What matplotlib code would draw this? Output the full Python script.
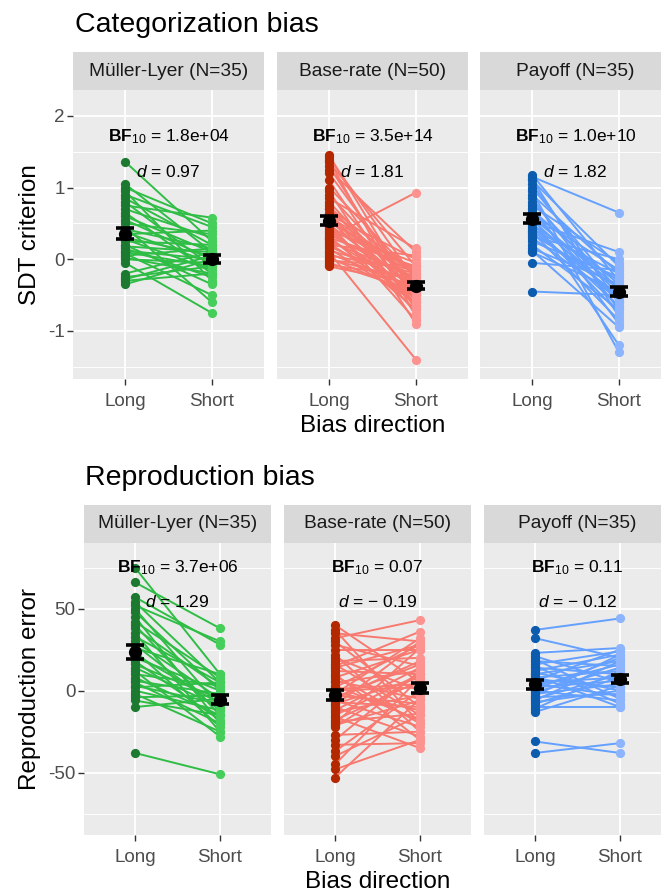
import numpy as np
import matplotlib
matplotlib.use('Agg')
import matplotlib.pyplot as plt

plt.rcParams['font.family'] = ['Liberation Sans', 'DejaVu Sans']
plt.rcParams['mathtext.fontset'] = 'custom'
plt.rcParams['mathtext.rm'] = 'Liberation Sans'
plt.rcParams['mathtext.it'] = 'Liberation Sans:italic'
plt.rcParams['mathtext.bf'] = 'Liberation Sans:bold'
plt.rcParams['axes.unicode_minus'] = False

directions = ['Long', 'Short']
tasks = ['Müller-Lyer (N=35)', 'Base-rate (N=50)', 'Payoff (N=35)']

# --- SDT criterion, one value per participant (long / short bias) ---
crit_ml_long = [1.36, 1.05, 1.0, 0.95, 0.9, 0.85, 0.8, 0.75, 0.7, 0.65, 0.6, 0.55,
                0.5, 0.45, 0.42, 0.38, 0.35, 0.3, 0.28, 0.25, 0.2, 0.18, 0.15, 0.12,
                0.1, 0.08, 0.05, 0.02, 0.0, -0.05, -0.2, -0.25, -0.28, -0.3, -0.35]
crit_ml_short = [0.25, 0.1, 0.5, -0.3, 0.45, 0.2, -0.1, 0.58, 0.3, -0.2, 0.1, 0.0,
                 0.35, -0.6, 0.15, -0.05, 0.4, 0.05, -0.15, 0.2, -0.35, 0.1, -0.25, 0.0,
                 -0.1, -0.5, 0.15, -0.2, -0.05, -0.75, 0.1, -0.1, 0.05, -0.2, 0.0]
crit_br_long = [1.45, 1.42, 1.38, 1.35, 1.3, 1.25, 1.2, 1.1, 1.0, 0.95, 0.9, 0.85, 0.8,
                0.75, 0.72, 0.7, 0.65, 0.62, 0.6, 0.58, 0.55, 0.52, 0.5, 0.48, 0.45,
                0.42, 0.4, 0.38, 0.35, 0.32, 0.3, 0.28, 0.25, 0.22, 0.2, 0.18, 0.15,
                0.12, 0.1, 0.08, 0.05, 0.02, 0.0, -0.02, -0.05, -0.08, -0.1, 0.3, 0.45, 0.6]
crit_br_short = [-0.55, -0.3, -0.8, -0.1, -0.6, 0.1, -0.45, -0.7, -0.25, -0.9, -0.4, 0.15,
                 -0.5, -0.65, -0.2, -0.35, -0.75, 0.0, -0.45, -0.3, -0.55, -0.15, -0.85,
                 -0.4, -0.2, -0.6, -0.05, -0.5, -0.3, -0.7, -0.1, -0.45, -0.25, -0.55,
                 0.05, -0.35, -0.6, -0.2, -1.4, -0.4, -0.15, -0.5, -0.3, -0.1, -0.45,
                 -0.25, -0.35, 0.93, -0.65, -0.2]
crit_po_long = [1.18, 1.15, 1.12, 1.1, 1.05, 1.0, 0.95, 0.9, 0.85, 0.8, 0.75, 0.72, 0.68,
                0.65, 0.62, 0.6, 0.58, 0.55, 0.52, 0.5, 0.48, 0.45, 0.42, 0.4, 0.38, 0.35,
                0.32, 0.3, 0.25, 0.2, 0.15, 0.12, 0.1, -0.05, -0.45]
crit_po_short = [-0.3, 0.65, -0.8, -0.1, -0.6, -0.45, -1.3, -0.2, -0.7, -0.5, -0.05, -0.9,
                 -0.35, -0.6, -0.15, -1.2, -0.4, -0.55, 0.1, -0.75, -0.3, -0.65, -0.2,
                 -0.5, -0.85, -0.4, 0.0, -0.55, -0.25, -0.7, -0.35, -0.95, -0.45, -0.15, -0.5]

# --- reproduction error, one value per participant ---
rep_ml_long = [75, 66, 57, 54, 52, 50, 48, 45, 42, 40, 38, 35, 33, 30, 28, 26, 24, 22,
               20, 18, 16, 14, 12, 10, 8, 6, 5, 3, 2, 0, -2, -4, -6, -10, -38]
rep_ml_short = [10, 38, 28, 5, 30, -10, 0, -20, 8, -15, 2, -25, 5, -5, -12, 10, -22, -8,
                0, -18, -5, -10, -28, 3, -15, -2, -20, -8, 5, -12, -25, -3, -15, -5, -51]
rep_br_long = [40, 37, 35, 32, 30, 28, 25, 22, 20, 18, 16, 14, 12, 10, 8, 6, 5, 3, 2, 0,
               -1, -2, -3, -5, -6, -8, -9, -10, -12, -13, -15, -16, -18, -19, -20, -21,
               -22, 15, 9, 1, -4, -7, -27, -30, -33, -37, -40, -45, -48, -53]
rep_br_short = [5, -20, 30, 43, -10, 15, 25, -25, 0, 20, -15, 28, 10, -30, 25, -5, 12,
                -18, 28, 2, -12, 32, -8, 18, -22, 8, 30, -28, 14, -3, 10, -35, 6, -14,
                26, -6, 10, 36, -20, 4, 16, -10, -25, 12, -32, 0, -15, 8, -30, -5]
rep_po_long = [37, 32, 23, 21, 19, 18, 16, 15, 14, 12, 11, 10, 9, 8, 7, 6, 5, 4, 3, 2, 1,
               0, -1, -2, -3, -4, -5, -6, -7, -8, -10, -11, -13, -31, -38]
rep_po_short = [44, 20, 26, 5, -5, 15, 24, -8, 10, 22, 0, 18, -10, 12, 2, 25, 8, -3, 16,
                6, 20, -6, 14, 4, 22, -2, 10, 18, 0, 8, -10, 12, 3, -38, -32]

crit_bf = ['1.8e+04', '3.5e+14', '1.0e+10']
crit_d = ['0.97', '1.81', '1.82']
rep_bf = ['3.7e+06', '0.07', '0.11']
rep_d = ['1.29', '\u2212 0.19', '\u2212 0.12']

# long points, short points, connecting lines
palettes = [('#1c7a30', '#45cf5a', '#2fbd45'),
            ('#b42800', '#fd9390', '#f8796f'),
            ('#0b5cae', '#8db4ff', '#64a0ff')]

W, H = 661, 894
fig = plt.figure(figsize=(W / 100, H / 100), dpi=100)


def px_axes(left, top, width, height):
    return fig.add_axes([left / W, 1 - (top + height) / H, width / W, height / H])


def facet_row(title, title_pos, lefts, width, top, bottom, data, bfs, ds,
              ylim, yticks, yminor, ylabel, bf_y, d_y):
    fig.text(title_pos[0] / W, 1 - title_pos[1] / H, title, fontsize=20.5,
             va='baseline', ha='left', color='black')
    for i, left in enumerate(lefts):
        strip = px_axes(left, top - 38, width, 38)
        strip.set_facecolor('#D9D9D9')
        strip.set_xticks([])
        strip.set_yticks([])
        for sp in strip.spines.values():
            sp.set_visible(False)
        strip.text(0.5, 0.5, tasks[i], ha='center', va='center',
                   fontsize=13.8, color='#1A1A1A', transform=strip.transAxes)

        ax = px_axes(left, top, width, bottom - top)
        ax.set_facecolor('#EBEBEB')
        for sp in ax.spines.values():
            sp.set_visible(False)
        ax.set_axisbelow(True)

        long_v, short_v = np.array(data[i][0]), np.array(data[i][1])
        c_long, c_short, c_line = palettes[i]
        for a, b in zip(long_v, short_v):
            ax.plot([1, 2], [a, b], color=c_line, lw=1.4, zorder=2,
                    solid_capstyle='round')
        ax.scatter(np.ones(len(long_v)), long_v, s=44, color=c_long,
                   linewidths=0, zorder=3)
        ax.scatter(np.full(len(short_v), 2), short_v, s=44, color=c_short,
                   linewidths=0, zorder=3)

        means = [long_v.mean(), short_v.mean()]
        ses = [long_v.std(ddof=1) / np.sqrt(len(long_v)),
               short_v.std(ddof=1) / np.sqrt(len(short_v))]
        ax.errorbar([1, 2], means, yerr=ses, fmt='o', color='black', ms=8.5,
                    elinewidth=2.6, capsize=6.5, capthick=2.6, zorder=5)

        ax.text(1.5, bf_y, r'$\mathbf{BF}_{\mathrm{10}}$' + ' = ' + bfs[i],
                ha='center', va='center', fontsize=12.5, zorder=6)
        ax.text(1.5, d_y, r'$d$' + ' = ' + ds[i],
                ha='center', va='center', fontsize=12.5, zorder=6)

        ax.set_xlim(0.4, 2.6)
        ax.set_ylim(*ylim)
        ax.set_xticks([1, 2])
        ax.set_xticklabels(directions)
        ax.set_yticks(yticks)
        ax.set_yticklabels([str(t) for t in yticks])
        ax.set_yticks(yminor, minor=True)
        ax.grid(which='major', color='white', lw=1.3)
        ax.grid(which='minor', axis='y', color='white', lw=0.65)
        ax.tick_params(which='major', length=4, width=1.0, color='#333333',
                       labelcolor='#4D4D4D', labelsize=13.6, pad=2)
        ax.tick_params(axis='x', which='major', pad=6)
        ax.tick_params(which='minor', length=0)
        if i == 0:
            ax.set_ylabel(ylabel, fontsize=17.5, labelpad=5)
        else:
            ax.tick_params(axis='y', which='both', left=False, labelleft=False)
        if i == 1:
            ax.set_xlabel('Bias direction', fontsize=17.5, labelpad=4)


facet_row('Categorization bias', (75, 32), [73, 277, 480], 191, 90, 379,
          [(crit_ml_long, crit_ml_short), (crit_br_long, crit_br_short),
           (crit_po_long, crit_po_short)],
          crit_bf, crit_d, (-1.67, 2.36), [-1, 0, 1, 2], [-1.5, -0.5, 0.5, 1.5],
          'SDT criterion', 1.71, 1.22)

facet_row('Reproduction bias', (85, 485), [84, 284, 484], 187, 543, 835,
          [(rep_ml_long, rep_ml_short), (rep_br_long, rep_br_short),
           (rep_po_long, rep_po_short)],
          rep_bf, rep_d, (-88, 90), [-50, 0, 50], [-75, -25, 25, 75],
          'Reproduction error', 75, 54)

fig.savefig('out.png', dpi=100)
